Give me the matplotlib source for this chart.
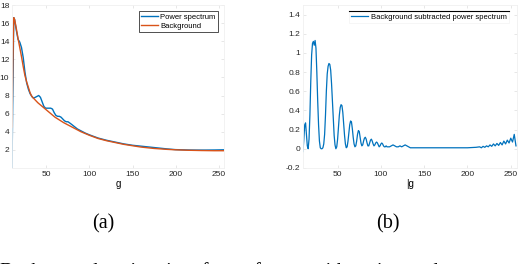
import numpy as np
import matplotlib
matplotlib.use("Agg")
import matplotlib.pyplot as plt

# ---- data ----
# (a) power spectrum vs. background
g_pow = [10, 11, 12, 13, 15, 17, 19, 21, 23, 25, 27, 29, 31, 33, 35, 37, 39, 41, 43, 45, 47, 49,
         51, 53, 55, 57, 59, 61, 63, 65, 67, 69, 71, 73, 75, 78, 82, 86, 90, 95, 100, 110,
         120, 130, 140, 150, 160, 175, 190, 200, 215, 225, 235, 245, 256]
power = [0.0, 9.0, 16.6, 16.4, 15.2, 14.2, 13.9, 13.3, 12.2, 10.6, 9.4, 8.7, 8.2, 7.9, 7.7, 7.8, 7.9, 8.0, 7.8, 7.3, 6.8, 6.6,
         6.6, 6.6, 6.6, 6.5, 6.1, 5.8, 5.7, 5.7, 5.6, 5.4, 5.2, 5.1, 5.1, 4.9, 4.6, 4.3, 4.1, 3.85, 3.65, 3.3,
         3.05, 2.85, 2.65, 2.5, 2.4, 2.25, 2.1, 2.02, 1.98, 1.97, 1.97, 1.98, 2.0]

g_bg = [10, 11, 12, 13, 15, 17, 19, 21, 23, 25, 27, 29, 31, 33, 35, 40, 45, 50, 55, 60, 65,
        70, 75, 80, 90, 100, 110, 120, 130, 140, 150, 160, 175, 190, 200, 215, 230, 245, 256]
background = [4.5, 12.0, 16.6, 16.4, 15.4, 14.3, 13.3, 12.3, 11.2, 10.2, 9.5, 8.9, 8.3, 7.9, 7.7, 7.2, 6.8, 6.4, 6.0, 5.6, 5.3,
              5.0, 4.75, 4.5, 4.0, 3.6, 3.25, 3.0, 2.8, 2.6, 2.45, 2.3, 2.15, 2.05, 2.0, 1.95, 1.92, 1.9, 1.9]

# (b) background-subtracted power spectrum
g_sub = list(range(10, 109)) + list(range(110, 136, 2)) + [140, 150, 160, 170, 180, 190, 200, 205, 210] \
        + list(range(214, 257, 2))
subtracted = [-0.03, 0.1, 0.25, 0.27, 0.15, 0.03, 0.0, 0.1, 0.35, 0.7,
              0.98, 1.1, 1.12, 1.08, 1.13, 1.05, 0.8, 0.5, 0.25, 0.08,
              0.01, 0.0, 0.0, 0.01, 0.05, 0.15, 0.35, 0.6, 0.78, 0.86,
              0.89, 0.88, 0.82, 0.68, 0.5, 0.3, 0.14, 0.04, 0.0, 0.02,
              0.1, 0.22, 0.35, 0.43, 0.46, 0.45, 0.38, 0.26, 0.14, 0.05,
              0.01, 0.02, 0.08, 0.17, 0.25, 0.29, 0.28, 0.21, 0.12, 0.05,
              0.02, 0.03, 0.08, 0.15, 0.19, 0.18, 0.12, 0.06, 0.03, 0.04,
              0.08, 0.11, 0.12, 0.1, 0.06, 0.03, 0.03, 0.06, 0.09, 0.1,
              0.08, 0.05, 0.03, 0.04, 0.06, 0.07, 0.06, 0.04, 0.02, 0.03,
              0.05, 0.06, 0.05, 0.03, 0.02, 0.02, 0.03, 0.02, 0.02,
              0.02, 0.03, 0.04, 0.03, 0.02, 0.02, 0.03, 0.02, 0.03, 0.04, 0.03, 0.02, 0.01,
              0.01, 0.01, 0.01, 0.01, 0.01, 0.01, 0.01, 0.012, 0.015,
              0.02, 0.01, 0.025, 0.015, 0.03, 0.02, 0.04, 0.025, 0.05, 0.03, 0.055,
              0.035, 0.065, 0.04, 0.08, 0.05, 0.09, 0.06, 0.11, 0.07, 0.15, 0.03]

BLUE = '#0072BD'
ORANGE = '#D95319'

plt.rcParams['font.family'] = ['Liberation Sans', 'DejaVu Sans']

fig = plt.figure(figsize=(5.32, 2.64), dpi=100)
ax1 = fig.add_axes([0.0226, 0.364, 0.398, 0.617])
ax2 = fig.add_axes([0.5695, 0.364, 0.402, 0.617])


def style(ax):
    for s in ax.spines.values():
        s.set_color('#f0f0f0')
        s.set_linewidth(0.6)
    ax.tick_params(direction='in', length=2, width=0.5, color='#dddddd',
                   labelsize=6, labelcolor='#262626', pad=2, top=True, right=True)


ax1.plot(g_pow, power, color=BLUE, lw=1.0, label='Power spectrum')
ax1.plot(g_bg, background, color=ORANGE, lw=1.0, label='Background')
ax1.set_xlim(10, 256)
ax1.set_ylim(0, 18)
ax1.set_xticks([50, 100, 150, 200, 250])
ax1.set_yticks(np.arange(2, 19, 2))
ax1.set_xlabel('g', fontsize=7, labelpad=1)
style(ax1)
leg1 = ax1.legend(loc='upper right', fontsize=5.5, frameon=True, fancybox=False,
                  handlelength=2.2, borderpad=0.3, labelspacing=0.2, handletextpad=0.3,
                  bbox_to_anchor=(0.99, 0.985))
leg1.get_frame().set_edgecolor('black')
leg1.get_frame().set_linewidth(0.6)

ax2.plot(g_sub, subtracted, color=BLUE, lw=0.9, label='Background subtracted power spectrum')
ax2.set_xlim(10, 257)
ax2.set_ylim(-0.2, 1.5)
ax2.set_xticks([50, 100, 150, 200, 250])
ax2.set_yticks(np.round(np.arange(-0.2, 1.41, 0.2), 1))
ax2.set_yticklabels(['-0.2', '0', '0.2', '0.4', '0.6', '0.8', '1', '1.2', '1.4'])
ax2.set_xlabel('|g', fontsize=7, labelpad=1)
style(ax2)
leg2 = ax2.legend(loc='upper right', fontsize=5.5, frameon=True, fancybox=False,
                  handlelength=2.2, borderpad=0.3, handletextpad=0.3,
                  bbox_to_anchor=(0.98, 0.985))
leg2.get_frame().set_edgecolor('#f2f2f2')
leg2.get_frame().set_linewidth(0.6)

# dark top edge of the second legend box
fig.canvas.draw()
bb = leg2.get_window_extent().transformed(fig.transFigure.inverted())
fig.add_artist(plt.Line2D([bb.x0, bb.x1], [bb.y1, bb.y1], color='black', lw=0.8,
                          transform=fig.transFigure))

# sub-figure captions and the cut caption line below
fig.text(103 / 532, 1 - 224 / 264, '(a)', ha='center', va='center',
         family='Liberation Serif', fontsize=14.5)
fig.text(388 / 532, 1 - 224 / 264, '(b)', ha='center', va='center',
         family='Liberation Serif', fontsize=14.5)
fig.text(0.0, -0.048, 'Background  estimation  for  a  frame  with  noise  and', ha='left',
         va='baseline', family='Liberation Serif', fontsize=14.5)

fig.savefig('out.png', dpi=100)
